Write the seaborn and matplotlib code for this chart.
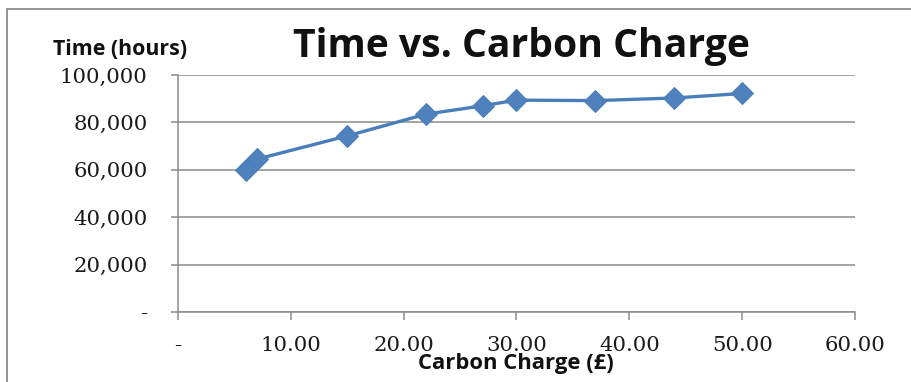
import matplotlib
matplotlib.use("Agg")
import matplotlib.pyplot as plt
import seaborn as sns
import pandas as pd
from matplotlib.lines import Line2D

# ---- data ----
carbon_charge = [6, 7, 15, 22, 27, 30, 37, 44, 50]
time_hours = [60000, 64500, 74300, 83500, 87000, 89400, 89200, 90300, 92200]
x_ticks = [0, 10, 20, 30, 40, 50, 60]
x_tick_labels = ["-", "10.00", "20.00", "30.00", "40.00", "50.00", "60.00"]
y_ticks = [0, 20000, 40000, 60000, 80000, 100000]
y_tick_labels = ["-", "20,000", "40,000", "60,000", "80,000", "100,000"]
title = "Time vs. Carbon Charge"
x_label = "Carbon Charge (£)"
y_label = "Time (hours)"

df = pd.DataFrame({"x": carbon_charge, "y": time_hours})

sns.set_style("white")
plt.rcParams["font.family"] = ["Open Sans", "DejaVu Sans"]

W, H = 912, 382
fig = plt.figure(figsize=(W / 100, H / 100), dpi=100)
ax = fig.add_axes([178 / W, 1 - 312 / H, (855 - 178) / W, (312 - 75) / H])

blue = "#4A7EBB"
sns.lineplot(data=df, x="x", y="y", ax=ax, color=blue, linewidth=2.4,
             marker="D", markersize=11, markeredgecolor=blue,
             markerfacecolor="#4F81BD")

tick_font = dict(family="DejaVu Serif", fontsize=15.3, color="#1a1a1a")
ax.set_xlim(0, 60)
ax.set_ylim(0, 100000)
ax.set_xticks(x_ticks)
ax.set_xticklabels(x_tick_labels, **tick_font)
ax.set_yticks(y_ticks)
ax.set_yticklabels(y_tick_labels, **tick_font)

grid_c = "#8a8a8a"
ax.yaxis.grid(True, color=grid_c, linewidth=1.1)
ax.xaxis.grid(False)
for s in ["top", "right"]:
    ax.spines[s].set_visible(False)
for s in ["left", "bottom"]:
    ax.spines[s].set_color(grid_c)
    ax.spines[s].set_linewidth(1.1)
ax.tick_params(axis="x", direction="out", length=6, width=1.1, color=grid_c,
               pad=11, bottom=True)
ax.tick_params(axis="y", direction="out", length=5, width=1.1, color=grid_c,
               pad=17, left=True)
ax.set_xlabel("")
ax.set_ylabel("")

renderer = fig.canvas.get_renderer()


def fitted_text(x_left, y_base, target_w, s, start_size):
    t = fig.text(x_left / W, 1 - y_base / H, s, ha="left", va="baseline",
                 fontsize=start_size, fontweight="bold", color="#111111")
    for _ in range(4):
        w = t.get_window_extent(renderer).width
        t.set_fontsize(t.get_fontsize() * target_w / w)
    return t


fitted_text(293, 57, 459, title, 24)
fitted_text(53, 55, 134, y_label, 13)
fitted_text(418, 369, 195, x_label, 14)

# outer chart frame (top and left edges visible)
fig.add_artist(Line2D([7 / W, 1], [1 - 9 / H, 1 - 9 / H],
                      transform=fig.transFigure, color="#8c8c8c", linewidth=1.3))
fig.add_artist(Line2D([7 / W, 7 / W], [0, 1 - 9 / H],
                      transform=fig.transFigure, color="#8c8c8c", linewidth=1.3))

fig.savefig("out.png", dpi=100)
